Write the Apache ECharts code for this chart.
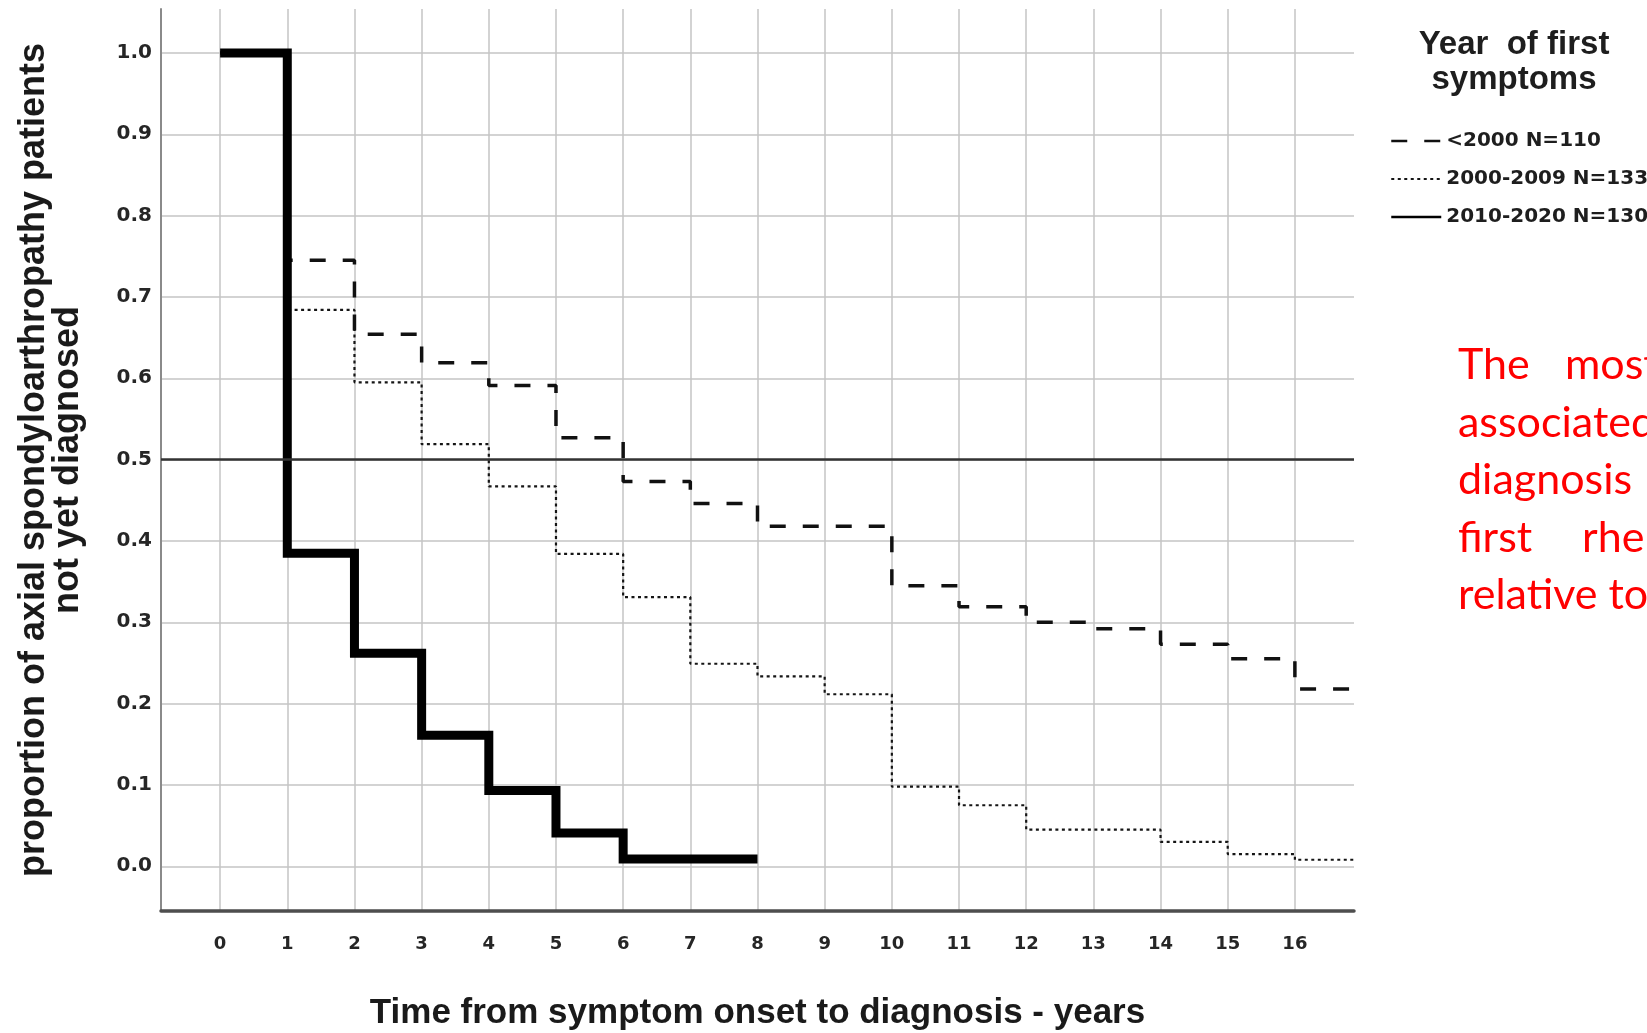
<!DOCTYPE html>
<html>
<head>
<meta charset="utf-8">
<script src="https://cdn.jsdelivr.net/npm/echarts@6/dist/echarts.min.js"></script>
<style>
html,body{margin:0;padding:0;background:#ffffff;}
#chart{width:1647px;height:1033px;}
</style>
</head>
<body>
<div id="chart"></div>
<script>
// ---------- data ----------
const seriesNames = ['<2000 N=110', '2000-2009 N=133', '2010-2020 N=130'];

const timesPre2000 = [0, 1, 2, 3, 4, 5, 6, 7, 8, 10, 11, 12, 13, 14, 15, 16, 16.88];
const valsPre2000  = [1.0, 0.745, 0.654, 0.619, 0.591, 0.527, 0.473, 0.446, 0.418, 0.345, 0.319, 0.300, 0.292, 0.273, 0.255, 0.218, 0.218];

const times2000s = [0, 1, 2, 3, 4, 5, 6, 7, 8, 9, 10, 11, 12, 14, 15, 16, 16.88];
const vals2000s  = [1.0, 0.684, 0.595, 0.519, 0.467, 0.384, 0.331, 0.249, 0.2335, 0.2115, 0.098, 0.075, 0.045, 0.030, 0.015, 0.008, 0.008];

const times2010s = [0, 1, 2, 3, 4, 5, 6, 8];
const vals2010s  = [1.0, 0.385, 0.262, 0.161, 0.093, 0.041, 0.009, 0.009];

const xTicks = [0, 1, 2, 3, 4, 5, 6, 7, 8, 9, 10, 11, 12, 13, 14, 15, 16];
const yTicks = [0, 0.1, 0.2, 0.3, 0.4, 0.5, 0.6, 0.7, 0.8, 0.9, 1.0];
const medianLevel = 0.5;

const xTitle = 'Time from symptom onset to diagnosis - years';
const yTitle = 'proportion of axial spondyloarthropathy patients\nnot yet diagnosed';
const legendTitle = 'Year  of first\nsymptoms';
const noteLines = [['The', 'most'], ['associated'], ['diagnosis'], ['first', 'rheumatologist'], ['relative to']];

// ---------- helpers ----------
const zip = (t, v) => t.map((x, i) => [x, v[i]]);

// note layout (positions kept out of the data)
const noteX = [[1458, 1565], [1458], [1458], [1458, 1582], [1458]];
const noteY = [365, 423, 480, 538, 595];
const noteGraphics = [];
noteLines.forEach((words, li) => {
  words.forEach((w, wi) => {
    noteGraphics.push({
      type: 'text', silent: true,
      style: {
        text: w, x: noteX[li][wi], y: noteY[li],
        fill: '#ff0000', fontFamily: 'Lato', fontSize: 43,
        align: 'left', verticalAlign: 'middle'
      }
    });
  });
});

const tickFont = { fontFamily: 'DejaVu Sans', fontWeight: 'bold', color: '#262626' };

const chart = echarts.init(document.getElementById('chart'), null, { renderer: 'canvas' });
chart.setOption({
  animation: false,
  backgroundColor: '#ffffff',
  grid: { left: 161, right: 293, top: 9, bottom: 122, containLabel: false, outerBoundsMode: 'none' },
  xAxis: {
    type: 'value', min: -0.88, max: 16.88,
    axisLine: { show: true, onZero: false, lineStyle: { color: '#4e4e4e', width: 3.5 } },
    axisTick: { show: false, customValues: xTicks },
    axisLabel: Object.assign({ customValues: xTicks, margin: 24, fontSize: 18 }, tickFont),
    splitLine: { show: true, lineStyle: { color: '#c4c4c4', width: 1.5 } },
    name: xTitle, nameLocation: 'middle', nameGap: 85, nameMoveOverlap: false,
    nameTextStyle: { fontFamily: 'Liberation Sans', fontWeight: 'bold', fontSize: 35, color: '#1a1a1a' }
  },
  yAxis: {
    type: 'value', min: -0.055, max: 1.054,
    axisLine: { show: true, onZero: false, lineStyle: { color: '#8a8a8a', width: 2 } },
    axisTick: { show: false, customValues: yTicks },
    axisLabel: Object.assign({ customValues: yTicks, margin: 9, fontSize: 20, formatter: v => v.toFixed(1) }, tickFont),
    splitLine: { show: true, lineStyle: { color: '#c4c4c4', width: 1.5 } },
    name: yTitle, nameLocation: 'middle', nameGap: 76, nameRotate: 90, nameMoveOverlap: false,
    nameTextStyle: { fontFamily: 'Liberation Sans', fontWeight: 'bold', fontSize: 36, lineHeight: 34, color: '#1a1a1a', align: 'center' }
  },
  legend: {
    orient: 'vertical', left: 1385, top: 126,
    itemWidth: 50, itemHeight: 14, itemGap: 18,
    selectedMode: false,
    itemStyle: { opacity: 0 },
    textStyle: { fontFamily: 'DejaVu Sans', fontWeight: 'bold', fontSize: 20, lineHeight: 20, color: '#1e1e1e' },
    data: [
      { name: seriesNames[0], lineStyle: { width: 2.5 } },
      { name: seriesNames[1], lineStyle: { width: 2 } },
      { name: seriesNames[2], lineStyle: { width: 2.5 } }
    ]
  },
  graphic: [{
    type: 'text', silent: true,
    style: {
      text: legendTitle, x: 1514, y: 27, align: 'center', verticalAlign: 'top',
      fontFamily: 'Liberation Sans', fontWeight: 'bold', fontSize: 33, lineHeight: 35, fill: '#1e1e1e'
    }
  }].concat(noteGraphics),
  series: [
    {
      name: seriesNames[1], type: 'line', step: 'end', data: zip(times2000s, vals2000s),
      symbol: 'none', z: 2, emphasis: { disabled: true },
      itemStyle: { color: '#151515' },
      lineStyle: { color: '#151515', width: 2.2, type: [3, 3.5], cap: 'butt' },
      markLine: {
        silent: true, symbol: 'none', label: { show: false }, animation: false,
        lineStyle: { color: '#333333', width: 2.5, type: 'solid' },
        data: [{ yAxis: medianLevel }]
      }
    },
    {
      name: seriesNames[0], type: 'line', step: 'end', data: zip(timesPre2000, valsPre2000),
      symbol: 'none', z: 3, emphasis: { disabled: true },
      itemStyle: { color: '#111111' },
      lineStyle: { color: '#111111', width: 3.5, type: [16, 17], cap: 'butt' }
    },
    {
      name: seriesNames[2], type: 'line', step: 'end', data: zip(times2010s, vals2010s),
      symbol: 'none', z: 4, emphasis: { disabled: true },
      itemStyle: { color: '#000000' },
      lineStyle: { color: '#000000', width: 9, type: 'solid', join: 'miter', cap: 'butt' }
    }
  ]
});
</script>
</body>
</html>
